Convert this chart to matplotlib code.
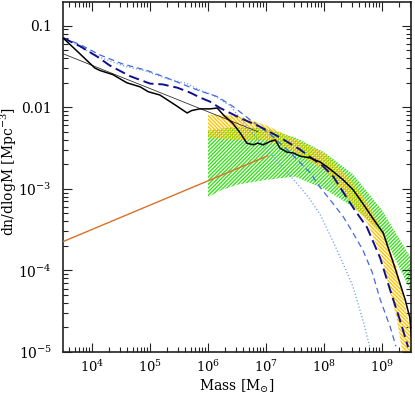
import numpy as np
import matplotlib
matplotlib.use("Agg")
import matplotlib.pyplot as plt
from matplotlib.ticker import FixedLocator, FixedFormatter, LogLocator, NullFormatter

# ---------------- data (log10 values) ----------------
black_logm = [3.50, 3.74, 4.05, 4.14, 4.36, 4.60, 4.83, 4.97, 5.17, 5.43, 5.64, 5.72,
              5.86, 6.03, 6.16, 6.26, 6.43, 6.55, 6.67, 6.78, 6.86, 6.95, 7.07, 7.16,
              7.24, 7.36, 7.47, 7.59, 7.76, 7.93, 8.05, 8.16, 8.33, 8.50, 8.67, 8.85,
              9.02, 9.22, 9.40, 9.48, 9.53]
black_logn = [-1.15, -1.31, -1.52, -1.55, -1.60, -1.70, -1.75, -1.81, -1.85, -1.97, -2.07, -2.04,
              -2.02, -2.02, -2.01, -2.09, -2.20, -2.31, -2.44, -2.46, -2.44, -2.46, -2.42, -2.40,
              -2.50, -2.55, -2.56, -2.60, -2.62, -2.67, -2.73, -2.79, -2.89, -3.01, -3.18, -3.37,
              -3.54, -3.96, -4.36, -4.58, -4.98]

navy_logm = [3.50, 3.79, 4.09, 4.31, 4.66, 5.00, 5.22, 5.47, 5.69, 5.86, 6.03, 6.21, 6.55,
             6.90, 7.24, 7.59, 7.76, 7.98, 8.16, 8.33, 8.53, 8.74, 8.97, 9.14, 9.31, 9.45]
navy_logn = [-1.15, -1.25, -1.38, -1.49, -1.62, -1.71, -1.72, -1.76, -1.82, -1.88, -1.93, -2.01, -2.13,
             -2.24, -2.37, -2.52, -2.61, -2.72, -2.85, -3.04, -3.26, -3.47, -3.85, -4.24, -4.61, -4.94]

royal_logm = [3.50, 3.79, 4.14, 4.53, 4.95, 5.29, 5.64, 5.86, 6.16, 6.43, 6.72, 7.07, 7.41,
              7.76, 7.93, 8.10, 8.33, 8.50, 8.67, 8.83, 8.97, 9.14, 9.24]
royal_logn = [-1.15, -1.23, -1.36, -1.47, -1.55, -1.64, -1.74, -1.80, -1.87, -1.99, -2.15, -2.33, -2.55,
              -2.80, -2.98, -3.13, -3.34, -3.54, -3.75, -4.02, -4.36, -4.69, -4.93]

light_logm = [3.50, 3.84, 4.14, 4.53, 4.95, 5.29, 5.64, 5.86, 6.09, 6.38, 6.55, 6.72, 7.02,
              7.59, 7.76, 7.93, 8.16, 8.40, 8.50, 8.67, 8.79]
light_logn = [-1.14, -1.28, -1.39, -1.49, -1.56, -1.65, -1.71, -1.79, -1.85, -1.98, -2.13, -2.28, -2.52,
              -2.98, -3.13, -3.31, -3.65, -4.03, -4.20, -4.61, -4.94]

thin_logm = [3.50, 6.86]
thin_logn = [-1.344, -2.30]

orange_logm = [3.50, 7.03]
orange_logn = [-3.647, -2.595]

green_logm = [6.0, 6.25, 6.5, 7.0, 7.5, 8.0, 8.5, 9.0, 9.5]
green_up = [-2.29, -2.26, -2.24, -2.26, -2.37, -2.55, -2.82, -3.26, -3.85]
green_lo = [-3.10, -3.01, -2.95, -2.89, -2.85, -3.00, -3.22, -3.53, -4.26]

yellow_logm = [6.0, 6.5, 7.0, 7.5, 8.0, 8.5, 8.75, 9.0, 9.25, 9.5]
yellow_up = [-2.09, -2.10, -2.22, -2.39, -2.56, -2.92, -3.17, -3.50, -3.95, -4.75]
yellow_lo = [-2.37, -2.40, -2.40, -2.55, -2.77, -3.20, -3.42, -3.85, -4.58, -5.60]

ytick_vals = [1e-1, 1e-2, 1e-3, 1e-4, 1e-5]
ytick_labels = ["0.1", "0.01", r"$10^{-3}$", r"$10^{-4}$", r"$10^{-5}$"]
xtick_vals = [1e4, 1e5, 1e6, 1e7, 1e8, 1e9]
xtick_labels = [r"$10^{4}$", r"$10^{5}$", r"$10^{6}$", r"$10^{7}$", r"$10^{8}$", r"$10^{9}$"]

# ---------------- style ----------------
plt.rcParams['font.family'] = ['DejaVu Serif']
plt.rcParams['mathtext.fontset'] = 'dejavuserif'
plt.rcParams['lines.scale_dashes'] = False
plt.rcParams['hatch.linewidth'] = 1.0

fig = plt.figure(figsize=(4.15, 3.95), dpi=100)
ax = fig.add_axes([63/415, 43/395, 348/415, 350/395])

def p(a):
    return 10**np.asarray(a, dtype=float)

# hatched bands
gx = np.concatenate([p(green_logm), p(green_logm)[::-1]])
gy = np.concatenate([p(green_up), p(green_lo)[::-1]])
ax.fill(gx, gy, facecolor='none', edgecolor='#38e01c', hatch='/' * 9, linewidth=0, zorder=1)

yx = np.concatenate([p(yellow_logm), p(yellow_logm)[::-1]])
yy = np.concatenate([p(yellow_up), p(yellow_lo)[::-1]])
ax.fill(yx, yy, facecolor='none', edgecolor='#ffc400', hatch='\\' * 9, linewidth=0, zorder=2)

# lines
ax.plot(p(orange_logm), p(orange_logn), color='#d9702a', lw=1.0, zorder=3)
ax.plot(p(thin_logm), p(thin_logn), color='#333333', lw=0.6, zorder=3)
ax.plot(p(light_logm), p(light_logn), color='#6f9cf0', lw=1.0, dashes=(0.8, 1.6), zorder=4)
ax.plot(p(royal_logm), p(royal_logn), color='#4169e1', lw=0.9, dashes=(4.3, 2.9), zorder=4)
ax.plot(p(navy_logm), p(navy_logn), color='#10108a', lw=1.4, dashes=(7.5, 3.5), zorder=5)
ax.plot(p(black_logm), p(black_logn), color='black', lw=1.1, zorder=6)

ax.set_xscale('log')
ax.set_yscale('log')
ax.set_xlim(10**3.5, 10**9.5)
ax.set_ylim(1e-5, 10**-0.71)

ax.yaxis.set_major_locator(FixedLocator(ytick_vals))
ax.yaxis.set_major_formatter(FixedFormatter(ytick_labels))
ax.xaxis.set_major_locator(FixedLocator(xtick_vals))
ax.xaxis.set_major_formatter(FixedFormatter(xtick_labels))
ax.xaxis.set_minor_locator(LogLocator(base=10, subs=np.arange(2, 10), numticks=20))
ax.yaxis.set_minor_locator(LogLocator(base=10, subs=np.arange(2, 10), numticks=20))
ax.xaxis.set_minor_formatter(NullFormatter())
ax.yaxis.set_minor_formatter(NullFormatter())

ax.tick_params(which='both', direction='in', top=True, right=True, width=0.8, color='#222222')
ax.tick_params(which='major', length=6.5)
ax.tick_params(which='minor', length=3.5)
ax.tick_params(axis='y', which='major', pad=8, labelsize=10)
ax.tick_params(axis='x', which='major', pad=5, labelsize=9.5)
for s in ax.spines.values():
    s.set_linewidth(1.2)
    s.set_color('#222222')

ax.set_xlabel(r"Mass [$\mathrm{M}_{\odot}$]", fontsize=10, labelpad=2)
ax.set_ylabel(r"dn/dlogM [Mpc$^{-3}$]", fontsize=10)
ax.yaxis.set_label_coords(-0.126, 0.517)

fig.savefig("out.png", dpi=100)
